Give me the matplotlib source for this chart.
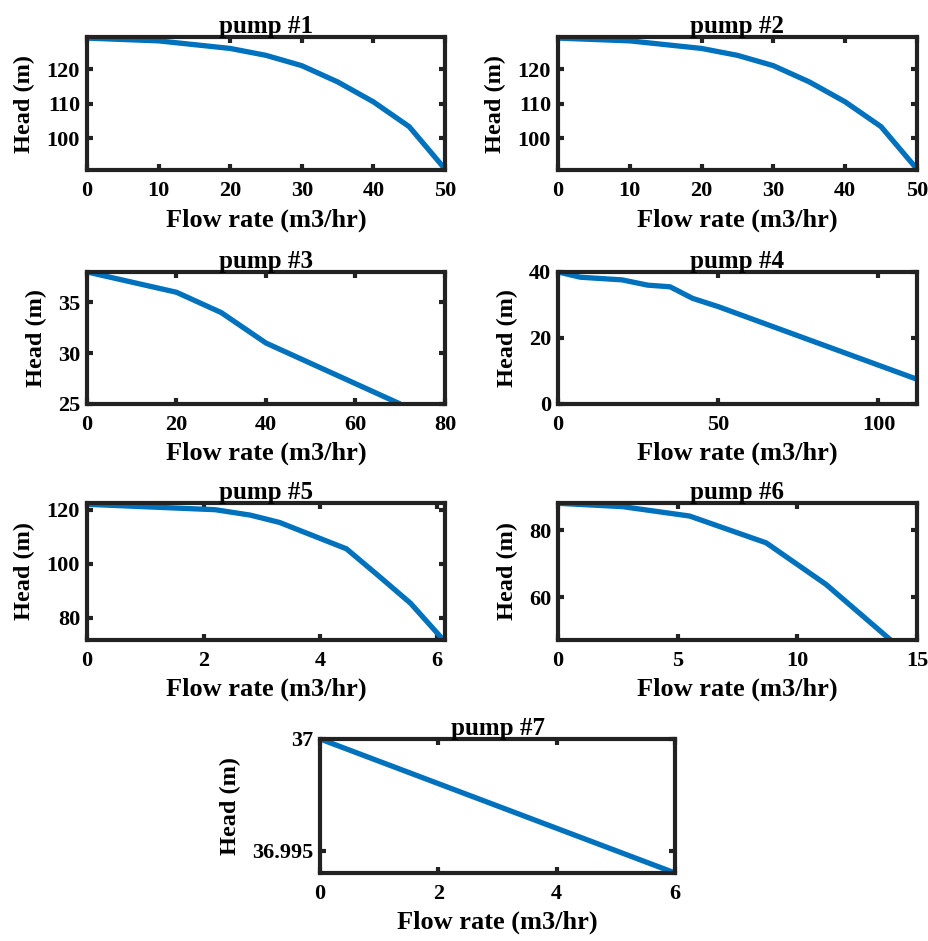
import matplotlib
matplotlib.use("Agg")
import matplotlib.pyplot as plt

# pump curves (flow m3/hr, head m)
flow1 = [0, 10, 20, 25, 30, 35, 40, 45, 50]
head1 = [129, 128.2, 126, 124, 121, 116.3, 110.5, 103.3, 91]
flow2 = [0, 10, 20, 25, 30, 35, 40, 45, 50]
head2 = [129, 128.2, 126, 124, 121, 116.3, 110.5, 103.3, 91]
flow3 = [0, 20, 30, 40, 50, 60, 70]
head3 = [38, 36, 34, 31, 29, 27, 25]
flow4 = [0, 7, 20, 28, 35, 42, 50, 112]
head4 = [40, 38.4, 37.6, 36, 35.5, 32, 29.5, 7.5]
flow5 = [0, 2.2, 2.8, 3.3, 4.45, 5.0, 5.55, 6.1]
head5 = [122, 120, 118, 115.3, 105.5, 95.5, 85.3, 72]
flow6 = [0, 2.7, 5.5, 8.7, 11.2, 13.9]
head6 = [88, 87, 84.2, 76.2, 63.8, 47.2]
flow7 = [0, 6]
head7 = [37.0, 36.994]

flows = [flow1, flow2, flow3, flow4, flow5, flow6, flow7]
heads = [head1, head2, head3, head4, head5, head6, head7]
titles = ["pump #1", "pump #2", "pump #3", "pump #4", "pump #5", "pump #6", "pump #7"]

xlims = [(0, 50), (0, 50), (0, 80), (0, 112), (0, 6.14), (0, 15), (0, 6)]
ylims = [(90.7, 129.3), (90.7, 129.3), (25, 38), (0, 40), (71.7, 122.5), (47.2, 88.1), (36.994, 37.0)]
xticks = [[0, 10, 20, 30, 40, 50], [0, 10, 20, 30, 40, 50], [0, 20, 40, 60, 80],
          [0, 50, 100], [0, 2, 4, 6], [0, 5, 10, 15], [0, 2, 4, 6]]
yticks = [[100, 110, 120], [100, 110, 120], [25, 30, 35], [0, 20, 40],
          [80, 100, 120], [60, 80], [36.995, 37]]
yticklabels = [None, None, None, None, None, None, ["36.995", "37"]]

# axes boxes in figure fractions
boxes = [
    [0.0936, 0.8193, 0.3854, 0.1413],
    [0.6006, 0.8193, 0.3864, 0.1413],
    [0.0936, 0.5707, 0.3854, 0.1403],
    [0.6006, 0.5707, 0.3864, 0.1403],
    [0.0936, 0.3199, 0.3854, 0.1456],
    [0.6006, 0.3199, 0.3864, 0.1456],
    [0.3445, 0.0723, 0.3821, 0.1424],
]

plt.rcParams["font.family"] = ["Liberation Serif", "DejaVu Serif"]
plt.rcParams["font.weight"] = "bold"

fig = plt.figure(figsize=(9.29, 9.41), dpi=100)
dark = "#222222"

for i in range(7):
    ax = fig.add_axes(boxes[i])
    ax.plot(flows[i], heads[i], color="#0072BD", lw=3.8, solid_capstyle="butt")
    ax.set_xlim(*xlims[i])
    ax.set_ylim(*ylims[i])
    ax.set_xticks(xticks[i])
    ax.set_yticks(yticks[i])
    if yticklabels[i] is not None:
        ax.set_yticklabels(yticklabels[i])
    for s in ax.spines.values():
        s.set_linewidth(3.0)
        s.set_color(dark)
    ax.tick_params(direction="in", length=4.5, width=3.0, color=dark,
                   top=True, right=True, labelsize=16, pad=5, labelcolor="black")
    ax.tick_params(axis="x", pad=8)
    for lab in ax.get_xticklabels() + ax.get_yticklabels():
        lab.set_fontweight("bold")
    ax.set_title(titles[i], fontsize=18, fontweight="bold", pad=3)
    ax.set_xlabel("Flow rate (m3/hr)", fontsize=19, fontweight="bold", labelpad=5)
    ax.set_ylabel("Head (m)", fontsize=17.5, fontweight="bold", labelpad=8)

fig.savefig("out.png", dpi=100)
